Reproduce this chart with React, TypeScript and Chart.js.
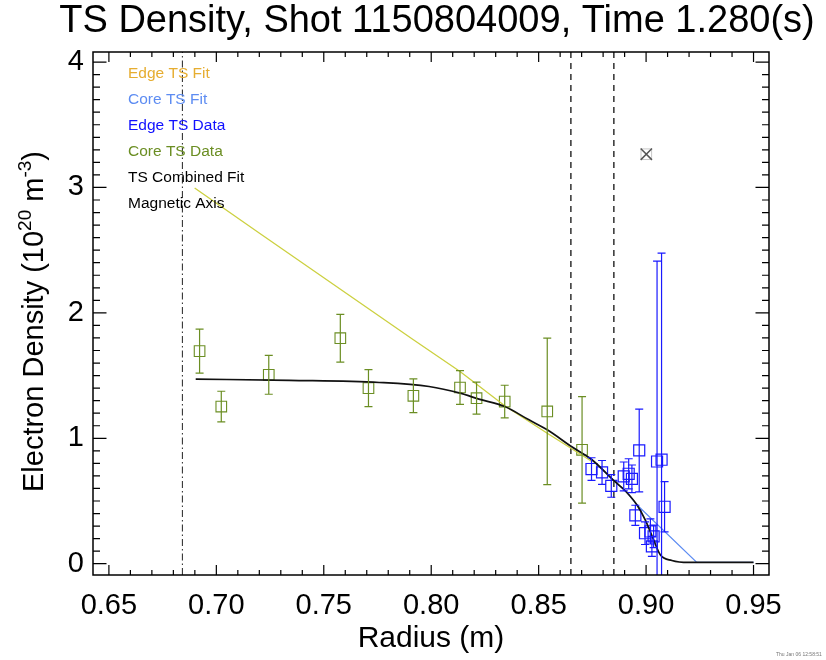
import React, { useEffect, useRef } from "react";
import { Chart, registerables } from "chart.js";

Chart.register(...registerables);

// ---- axis / tick labels ----
const xTickValues = [0.65, 0.7, 0.75, 0.8, 0.85, 0.9, 0.95];
const yTickValues = [0, 1, 2, 3, 4];
const xMin = 0.6426;
const xMax = 0.9572;
const yMin = -0.09;
const yMax = 4.08;

const titleText = "TS Density, Shot 1150804009, Time 1.280(s)";
const xTitle = "Radius (m)";
const stampText = "Thu Jan 06 12:58:51";

// ---- Core TS data ----
const coreR = [0.6922, 0.7023, 0.7244, 0.7577, 0.7708, 0.7917, 0.8134, 0.8211, 0.8342, 0.854, 0.8702];
const coreN = [1.695, 1.253, 1.506, 1.798, 1.4, 1.339, 1.405, 1.32, 1.293, 1.214, 0.908];
const coreErr = [0.175, 0.122, 0.155, 0.19, 0.147, 0.135, 0.135, 0.128, 0.13, 0.584, 0.425];

// ---- Edge TS data ----
const edgeR = [0.8746, 0.8795, 0.8838, 0.8896, 0.8919, 0.8934, 0.8968, 0.895, 0.8995, 0.902, 0.9035, 0.9027, 0.9051, 0.9072, 0.9086];
const edgeN = [0.755, 0.728, 0.62, 0.696, 0.717, 0.677, 0.903, 0.386, 0.243, 0.257, 0.218, 0.138, 0.815, 0.829, 0.454];
const edgeErr = [0.09, 0.095, 0.09, 0.115, 0.12, 0.11, 0.33, 0.08, 0.09, 0.1, 0.09, 0.08, 1.597, 1.647, 0.2];

// ---- excluded point ----
const excludedR = [0.9001];
const excludedN = [3.265];

// ---- fits ----
const combinedFitR = [0.6904, 0.734, 0.7758, 0.799, 0.8134, 0.8222, 0.8342, 0.8455, 0.854, 0.8656, 0.8748, 0.8854, 0.8906, 0.8957, 0.8996, 0.9035, 0.9066, 0.912, 0.9197, 0.95];
const combinedFitN = [1.472, 1.462, 1.445, 1.413, 1.36, 1.312, 1.253, 1.147, 1.068, 0.93, 0.829, 0.656, 0.576, 0.47, 0.35, 0.19, 0.072, 0.026, 0.01, 0.01];

const coreFitR = [0.8656, 0.8748, 0.8854, 0.8906, 0.8957, 0.9236, 0.95];
const coreFitN = [0.93, 0.829, 0.656, 0.576, 0.47, 0.01, 0.01];

const edgeFitR = [0.6899, 0.7201, 0.7917, 0.8134, 0.8342, 0.854, 0.8748];
const edgeFitN = [2.996, 2.635, 1.785, 1.532, 1.26, 1.04, 0.815];

// ---- vertical markers ----
const separatrixR = [0.865, 0.885];
const magneticAxisR = [0.6842];

// ---- legend ----
const legendLabels = ["Edge TS Fit", "Core TS Fit", "Edge TS Data", "Core TS Data", "TS Combined Fit", "Magnetic Axis"];
const legendColors = ["#e6ad30", "#5d8cf2", "#1010ff", "#6b8e23", "#000000", "#000000"];

const FONT = "'Liberation Sans', Arial, Helvetica, sans-serif";
const CORE_COLOR = "#6b8e23";
const EDGE_COLOR = "#1a1aff";
const CORE_FIT_COLOR = "#5d8cf2";
const EDGE_FIT_COLOR = "#ccd040";

const zip = (xs: number[], ys: number[]) => xs.map((x, i) => ({ x, y: ys[i] }));

const errorSets = [
  { r: coreR, n: coreN, e: coreErr, color: CORE_COLOR },
  { r: edgeR, n: edgeN, e: edgeErr, color: EDGE_COLOR },
];

const decorPlugin = {
  id: "decor",
  afterDatasetsDraw(chart: any) {
    const { ctx, chartArea: a, scales } = chart;
    const xs = scales.x;
    const ys = scales.y;
    ctx.save();
    ctx.beginPath();
    ctx.rect(a.left, a.top, a.right - a.left, a.bottom - a.top);
    ctx.clip();
    ctx.lineWidth = 1.2;
    for (const s of errorSets) {
      ctx.strokeStyle = s.color;
      s.r.forEach((r, i) => {
        const px = xs.getPixelForValue(r);
        const pt = ys.getPixelForValue(s.n[i] + s.e[i]);
        const pb = ys.getPixelForValue(s.n[i] - s.e[i]);
        ctx.beginPath();
        ctx.moveTo(px, pt);
        ctx.lineTo(px, pb);
        ctx.moveTo(px - 4, pt);
        ctx.lineTo(px + 4, pt);
        ctx.moveTo(px - 4, pb);
        ctx.lineTo(px + 4, pb);
        ctx.stroke();
      });
    }
    ctx.restore();
  },
  afterDraw(chart: any) {
    const { ctx, chartArea: a, scales } = chart;
    const xs = scales.x;
    const ys = scales.y;
    ctx.save();
    // frame
    ctx.strokeStyle = "#000";
    ctx.lineWidth = 1.5;
    ctx.strokeRect(a.left, a.top, a.right - a.left, a.bottom - a.top);

    // inward ticks on all four sides
    ctx.lineWidth = 1.2;
    ctx.beginPath();
    for (let i = 0; i <= 30; i++) {
      const v = Math.round((0.65 + i * 0.01) * 1000) / 1000;
      const px = xs.getPixelForValue(v);
      const major = i % 5 === 0;
      const len = major ? 10 : 5;
      ctx.moveTo(px, a.bottom);
      ctx.lineTo(px, a.bottom - len);
      ctx.moveTo(px, a.top);
      ctx.lineTo(px, a.top + len);
    }
    for (let i = 0; i <= 40; i++) {
      const v = i / 10;
      const py = ys.getPixelForValue(v);
      const major = i % 10 === 0;
      const len = major ? 13.5 : 7;
      ctx.moveTo(a.left, py);
      ctx.lineTo(a.left + len, py);
      ctx.moveTo(a.right, py);
      ctx.lineTo(a.right - len, py);
    }
    ctx.stroke();

    // legend (text only, coloured)
    ctx.font = `15.5px ${FONT}`;
    ctx.textAlign = "left";
    ctx.textBaseline = "alphabetic";
    legendLabels.forEach((t, i) => {
      ctx.fillStyle = legendColors[i];
      ctx.fillText(t, 128, 78 + i * 26);
    });

    // title
    ctx.fillStyle = "#000";
    ctx.font = `38px ${FONT}`;
    ctx.textAlign = "center";
    ctx.fillText(titleText, 437, 32);

    // x title
    ctx.font = `30px ${FONT}`;
    ctx.fillText(xTitle, 431, 647);

    // y title with superscripts
    ctx.save();
    ctx.translate(43, (a.top + a.bottom) / 2 + 8);
    ctx.rotate(-Math.PI / 2);
    const segs = [
      { t: "Electron Density (10", size: 29, dy: 0 },
      { t: "20", size: 19, dy: -12 },
      { t: " m", size: 29, dy: 0 },
      { t: "-3", size: 19, dy: -12 },
      { t: ")", size: 29, dy: 0 },
    ];
    let total = 0;
    for (const s of segs) {
      ctx.font = `${s.size}px ${FONT}`;
      total += ctx.measureText(s.t).width;
    }
    let cx = -total / 2;
    ctx.textAlign = "left";
    for (const s of segs) {
      ctx.font = `${s.size}px ${FONT}`;
      ctx.fillText(s.t, cx, s.dy);
      cx += ctx.measureText(s.t).width;
    }
    ctx.restore();

    // date stamp
    ctx.fillStyle = "#777";
    ctx.font = `5px ${FONT}`;
    ctx.textAlign = "left";
    ctx.fillText(stampText, 776, 656);
    ctx.restore();
  },
};

export default function App() {
  const ref = useRef<HTMLCanvasElement | null>(null);

  useEffect(() => {
    if (!ref.current) return;
    const lineDs = (data: any, color: string, width: number, extra: any = {}) => ({
      type: "scatter",
      data,
      showLine: true,
      borderColor: color,
      backgroundColor: color,
      borderWidth: width,
      pointRadius: 0,
      pointHoverRadius: 0,
      ...extra,
    });

    const datasets: any[] = [
      lineDs(zip(combinedFitR, combinedFitN), "#111111", 1.7, { cubicInterpolationMode: "monotone", tension: 0.4 }),
      lineDs(zip(coreFitR, coreFitN), CORE_FIT_COLOR, 1.2),
      lineDs(zip(edgeFitR, edgeFitN), EDGE_FIT_COLOR, 1.3),
      {
        type: "scatter",
        data: zip(edgeR, edgeN),
        pointStyle: "rect",
        pointRadius: 7.8,
        borderColor: EDGE_COLOR,
        backgroundColor: "rgba(0,0,0,0)",
        borderWidth: 1.2,
      },
      {
        type: "scatter",
        data: zip(coreR, coreN),
        pointStyle: "rect",
        pointRadius: 7.5,
        borderColor: CORE_COLOR,
        backgroundColor: "rgba(0,0,0,0)",
        borderWidth: 1.1,
      },
      {
        type: "scatter",
        data: zip(excludedR, excludedN),
        pointStyle: "crossRot",
        pointRadius: 8,
        borderColor: "#555555",
        borderWidth: 1.5,
      },
      {
        type: "scatter",
        data: zip(excludedR, excludedN),
        pointStyle: "rect",
        pointRadius: 7.5,
        borderColor: "#c8c8c8",
        backgroundColor: "rgba(0,0,0,0)",
        borderWidth: 1,
      },
      ...separatrixR.map((r) =>
        lineDs([{ x: r, y: yMin }, { x: r, y: yMax }], "#222222", 1.4, { borderDash: [6, 5] })
      ),
      ...magneticAxisR.map((r) =>
        lineDs([{ x: r, y: yMin }, { x: r, y: yMax }], "#222222", 1, { borderDash: [7, 3, 1.5, 3] })
      ),
    ];

    const chart = new Chart(ref.current, {
      type: "scatter",
      data: { datasets },
      options: {
        animation: false,
        responsive: false,
        events: [],
        layout: { padding: { top: 52, right: 57, left: 0, bottom: 0 } },
        plugins: {
          legend: { display: false },
          title: { display: false },
          tooltip: { enabled: false },
        },
        scales: {
          x: {
            type: "linear",
            min: xMin,
            max: xMax,
            grid: { display: false, drawTicks: false },
            border: { display: false },
            afterBuildTicks: (s: any) => {
              s.ticks = xTickValues.map((v) => ({ value: v }));
            },
            afterFit: (s: any) => {
              s.height = 85;
            },
            ticks: {
              color: "#000",
              font: { family: FONT, size: 29 },
              padding: 14,
              maxRotation: 0,
              autoSkip: false,
              callback: (v: any) => Number(v).toFixed(2),
            },
          },
          y: {
            type: "linear",
            min: yMin,
            max: yMax,
            grid: { display: false, drawTicks: false },
            border: { display: false },
            afterBuildTicks: (s: any) => {
              s.ticks = yTickValues.map((v) => ({ value: v }));
            },
            afterFit: (s: any) => {
              s.width = 93;
            },
            ticks: {
              color: "#000",
              font: { family: FONT, size: 29 },
              padding: 9,
              autoSkip: false,
              callback: (v: any) => String(v),
            },
          },
        },
      },
      plugins: [decorPlugin],
    } as any);
    return () => chart.destroy();
  }, []);

  return (
    <div style={{ position: "fixed", left: 0, top: 0, width: 826, height: 660, background: "#fff" }}>
      <canvas ref={ref} width={826} height={660} style={{ width: 826, height: 660, display: "block" }} />
    </div>
  );
}
